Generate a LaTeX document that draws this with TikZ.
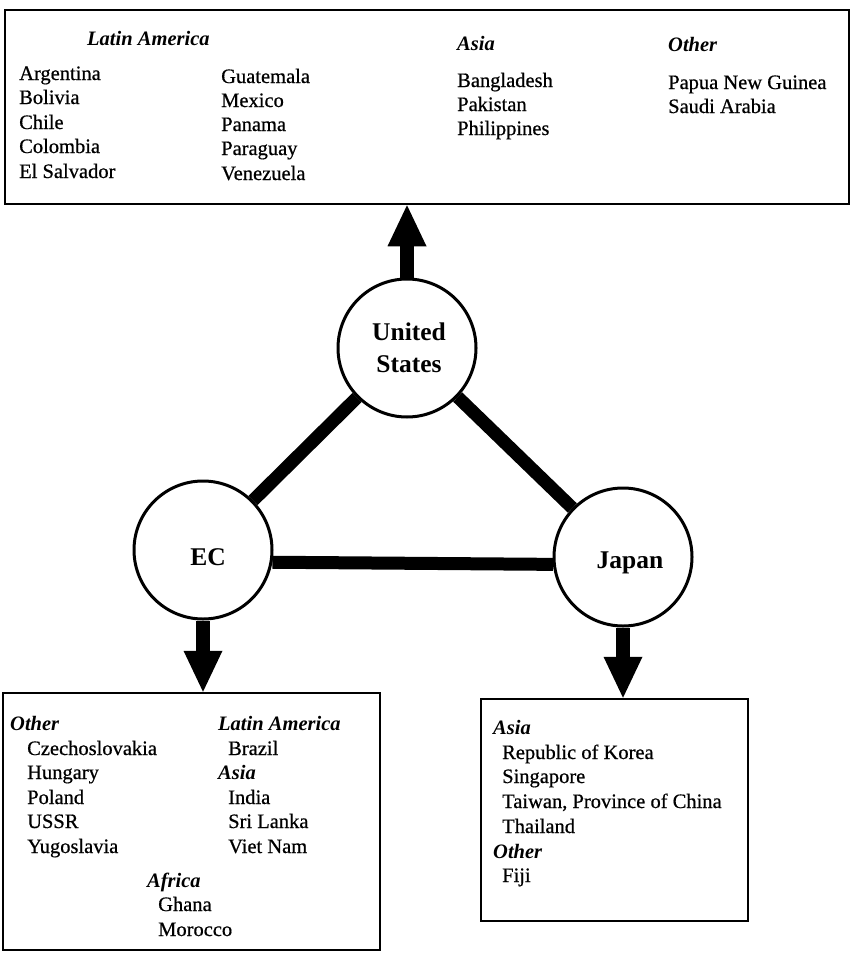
\documentclass[tikz,border=0pt]{standalone}
\usepackage{fontspec}
\setmainfont{Liberation Serif}
\newfontfamily\cfthickfam{Liberation Serif}[FakeBold=0.6]
\usetikzlibrary{arrows.meta}
\newcommand{\cfitem}{\cfthickfam\fontsize{20.5}{24}\selectfont}
\newcommand{\cfhead}{\fontsize{20.5}{24}\selectfont\bfseries\itshape}
\newcommand{\cflabel}{\fontsize{25.5}{32}\selectfont\bfseries}
\begin{document}
\begin{tikzpicture}[x=1pt,y=-1pt,
  box/.style={draw, line width=2.5pt, inner sep=0pt},
  bloc/.style={draw, circle, line width=3pt, minimum size=138pt, inner sep=0pt},
  bloctext/.style={align=center, inner sep=0pt, font=\cflabel},
  link/.style={line width=13pt},
  bigarrow/.style={line width=14pt, -{Triangle[width=39pt,length=41pt,line width=0pt]}},
  item/.style={anchor=base west, inner sep=0pt, font=\cfitem},
  head/.style={anchor=base west, inner sep=0pt, font=\cfhead}]
\useasboundingbox (0,0) rectangle (852,953);
\fill[white] (0,0) rectangle (852,953);

% boxes
\node[box, minimum width=844pt, minimum height=194pt] (topbox) at (427,107) {};
\node[box, minimum width=377pt, minimum height=257pt] (lbox) at (191.5,821.5) {};
\node[box, minimum width=267pt, minimum height=222pt] (rbox) at (614.5,810) {};

% blocs
\node[bloc] (US) at (407,348) {};
\node[bloc] (EC) at (203,550) {};
\node[bloc] (JP) at (623,557) {};
\node[bloctext] (US-t) at (409,348) {United\\States};
\node[bloctext] (EC-t) at (208,557) {EC};
\node[bloctext] (JP-t) at (630,563) {Japan};

% links
\draw[link] (US) -- (EC);
\draw[link] (US) -- (JP);
\draw[link] (EC.-10) -- (JP.186);

% arrows
\draw[bigarrow] (US.north) -- (US.north |- topbox.south);
\draw[bigarrow] (EC.south) -- (EC.south |- lbox.north);
\draw[bigarrow] (JP.south) -- (JP.south |- rbox.north);

% top box text
\node[head] (t-la) at (87,45) {Latin America};
\node[item] (t1) at (19,80) {Argentina};
\node[item] (t2) at (19,104) {Bolivia};
\node[item] (t3) at (19,129) {Chile};
\node[item] (t4) at (19,153) {Colombia};
\node[item] (t5) at (19,178) {El Salvador};
\node[item] (t6) at (221,83) {Guatemala};
\node[item] (t7) at (221,107) {Mexico};
\node[item] (t8) at (221,131) {Panama};
\node[item] (t9) at (221,155) {Paraguay};
\node[item] (t10) at (221,180) {Venezuela};
\node[head] (t-as) at (457,50) {Asia};
\node[item] (t11) at (457,87) {Bangladesh};
\node[item] (t12) at (457,111) {Pakistan};
\node[item] (t13) at (457,135) {Philippines};
\node[head] (t-ot) at (668,51) {Other};
\node[item] (t14) at (668,89) {Papua New Guinea};
\node[item] (t15) at (668,113) {Saudi Arabia};

% left box text
\node[head] (l-ot) at (10,730) {Other};
\node[item] (l1) at (27,755) {Czechoslovakia};
\node[item] (l2) at (27,779) {Hungary};
\node[item] (l3) at (27,804) {Poland};
\node[item] (l4) at (27,828) {USSR};
\node[item] (l5) at (27,853) {Yugoslavia};
\node[head] (l-la) at (218,730) {Latin America};
\node[item] (l6) at (228,755) {Brazil};
\node[head] (l-as) at (218,779) {Asia};
\node[item] (l7) at (228,804) {India};
\node[item] (l8) at (228,828) {Sri Lanka};
\node[item] (l9) at (228,853) {Viet Nam};
\node[head] (l-af) at (147,887) {Africa};
\node[item] (l10) at (158,911) {Ghana};
\node[item] (l11) at (158,936) {Morocco};

% right box text
\node[head] (r-as) at (493,734) {Asia};
\node[item] (r1) at (502,759) {Republic of Korea};
\node[item] (r2) at (502,783) {Singapore};
\node[item] (r3) at (502,808) {Taiwan, Province of China};
\node[item] (r4) at (502,833) {Thailand};
\node[head] (r-ot) at (493,858) {Other};
\node[item] (r5) at (502,882) {Fiji};
\end{tikzpicture}
\end{document}
